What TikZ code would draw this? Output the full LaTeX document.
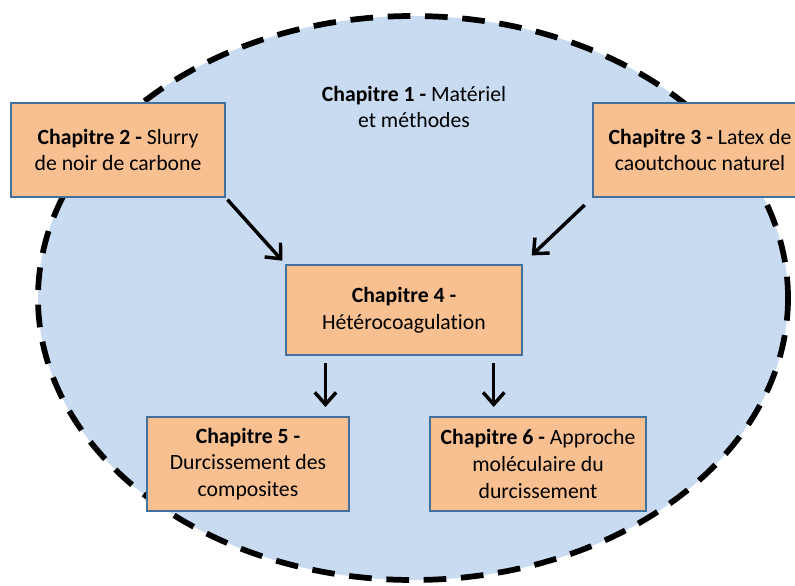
\documentclass[tikz,border=0pt]{standalone}
\usepackage{fontspec}
\setmainfont{Carlito}[Ligatures=CommonOff]
\usetikzlibrary{positioning,calc,arrows.meta}

\definecolor{chapfill}{HTML}{F8C090}
\definecolor{chapline}{HTML}{41719C}
\definecolor{bubblefill}{HTML}{C9DBF0}

\tikzset{
  chapbox/.style={rectangle,draw=chapline,line width=1.5pt,fill=chapfill,align=center,
    inner sep=0pt,font=\fontsize{16.3}{20}\selectfont},
  flowarrow/.style={line width=2.6pt,-{Straight Barb[length=9pt,width=16pt]}},
}

\begin{document}
\begin{tikzpicture}[x=0.75pt,y=-0.75pt]
        \useasboundingbox (0,0) rectangle (795,585);

        % the big dashed bubble holding everything
        \draw[fill=bubblefill,line width=4.3pt,dash pattern=on 17pt off 11pt] (413,298) ellipse (375 and 282);
        \node[align=center,font=\fontsize{16.3}{20}\selectfont] (chap1) at (414,107) {\textbf{Chapitre 1 -} Matériel\\et méthodes};

        \node[chapbox,minimum width=160pt,minimum height=70pt] (chap2) at (118,150) {\textbf{Chapitre 2 -} Slurry\\de noir de carbone};
        \node[chapbox,minimum width=160pt,minimum height=70pt] (chap3) at (700,150) {\textbf{Chapitre 3 -} Latex de\\caoutchouc naturel};
        \node[chapbox,minimum width=177pt,minimum height=68pt] (chap4) at (404,310) {\textbf{Chapitre 4 -}\\Hétérocoagulation};
        \node[chapbox,minimum width=152pt,minimum height=70pt] (chap5) at (248,464) {\textbf{Chapitre 5 -}\\Durcissement des\\composites};
        \node[chapbox,minimum width=162pt,minimum height=70pt] (chap6) at (538,464) {\textbf{Chapitre 6 -} Approche\\moléculaire du\\durcissement};

        % feet of the two downward arrows
        \coordinate (chap4-outa) at ($(chap4.south west)!0.17!(chap4.south east)$);
        \coordinate (chap4-outb) at ($(chap4.south west)!0.877!(chap4.south east)$);

        \draw[flowarrow,shorten <=2pt,shorten >=3pt] (chap2.south east) -- (chap4.north west);
        \draw[flowarrow,shorten <=8pt,shorten >=9pt] (chap3.south west) -- (chap4.north east);
        \draw[flowarrow,shorten <=5pt,shorten >=7pt] (chap4-outa) -- (chap4-outa |- chap5.north);
        \draw[flowarrow,shorten <=5pt,shorten >=7pt] (chap4-outb) -- (chap4-outb |- chap6.north);
\end{tikzpicture}
\end{document}
